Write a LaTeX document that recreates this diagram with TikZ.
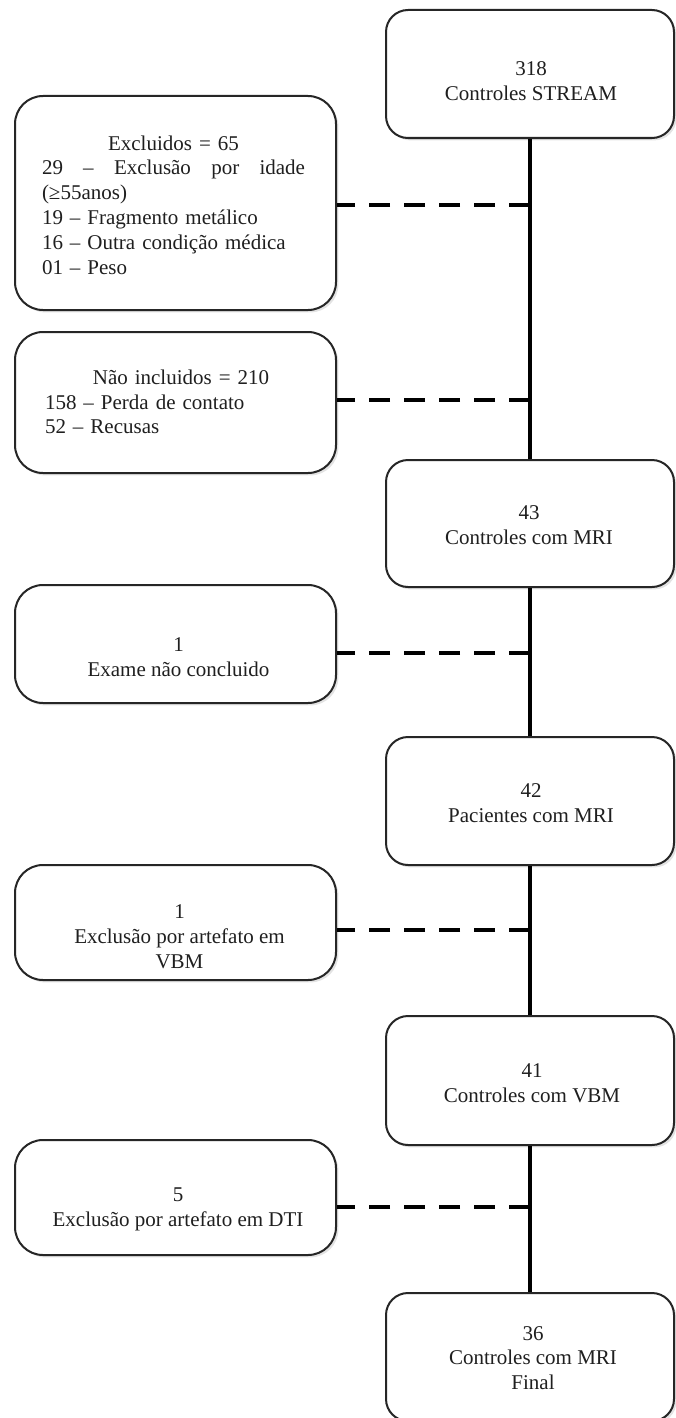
\documentclass[tikz,border=0pt]{standalone}
\usepackage{fontspec}
\setmainfont{Liberation Serif}
\usetikzlibrary{shadows}
\begin{document}
\begin{tikzpicture}[x=0.5pt,y=-0.5pt,
  boxbase/.style={draw=black!85, line width=1pt, fill=white, inner sep=0pt,
    drop shadow={opacity=0.22, shadow xshift=1.2pt, shadow yshift=-1.2pt}},
  rbox/.style={boxbase, rounded corners=11pt, minimum width=144pt},
  lbox/.style={boxbase, rounded corners=14pt, minimum width=160.5pt},
  txt/.style={font=\fontsize{10.5pt}{12.4pt}\selectfont, text=black!88, inner sep=0pt, align=center},
  vline/.style={line width=2pt, black},
  dline/.style={line width=2pt, black, dash pattern=on 10.5pt off 7pt}]
\useasboundingbox (0,0) rectangle (675,1418);
% right column boxes
\node[rbox, minimum height=64pt]   (b1) at (530,74) {};
\node[rbox, minimum height=63.5pt] (b2) at (530,523.5) {};
\node[rbox, minimum height=64pt]   (b3) at (530,801) {};
\node[rbox, minimum height=64.5pt] (b4) at (530,1080.5) {};
\node[rbox, minimum height=64pt]   (b5) at (530,1357) {};
% left column boxes
\node[lbox, minimum height=107pt]  (l1) at (175.5,203) {};
\node[lbox, minimum height=70.5pt] (l2) at (175.5,402.5) {};
\node[lbox, minimum height=59pt]   (l3) at (175.5,644) {};
\node[lbox, minimum height=57.5pt] (l4) at (175.5,922.5) {};
\node[lbox, minimum height=57.5pt] (l5) at (175.5,1197.5) {};
% texts right
\node[txt] (t1) at (531,81.5) {318\\Controles STREAM};
\node[txt] (t2) at (529,525) {43\\Controles com MRI};
\node[txt] (t3) at (531,803) {42\\Pacientes com MRI};
\node[txt] (t4) at (532,1083) {41\\Controles com VBM};
\node[txt] (t5) at (533,1358) {36\\Controles com MRI\\Final};
% texts left
\node[txt, text width=131.5pt, align=left] (e1) at (173.5,205)
  {\hfill Excluidos = 65\hfill\null\\
   29 \hfill – \hfill Exclusão \hfill por \hfill idade\\
   (≥55anos)\\
   19 – Fragmento metálico\\
   16 – Outra condição médica\\
   01 – Peso};
\node[txt, text width=136pt, align=left] (e2) at (181,402)
  {\hfill Não incluidos = 210\hfill\null\\
   158 – Perda de contato\\
   52 – Recusas};
\node[txt] (e3) at (178.5,657) {1\\Exame não concluido};
\node[txt] (e4) at (179.5,937) {1\\Exclusão por artefato em\\VBM};
\node[txt] (e5) at (178,1209) {5\\Exclusão por artefato em DTI};
% vertical connectors
\draw[vline] (b1.south) -- (b2.north);
\draw[vline] (b2.south) -- (b3.north);
\draw[vline] (b3.south) -- (b4.north);
\draw[vline] (b4.south) -- (b5.north);
% dashed connectors (drawn from the trunk towards the side box)
\path ([yshift=-1pt]l1.east) coordinate (d1);
\path ([yshift=1.25pt]l2.east) coordinate (d2);
\path ([yshift=-4.5pt]l3.east) coordinate (d3);
\path ([yshift=-3.75pt]l4.east) coordinate (d4);
\path ([yshift=-4.75pt]l5.east) coordinate (d5);
\draw[dline] (d1 -| b1.south) -- (d1);
\draw[dline] (d2 -| b1.south) -- (d2);
\draw[dline] (d3 -| b2.south) -- (d3);
\draw[dline] (d4 -| b3.south) -- (d4);
\draw[dline] (d5 -| b4.south) -- (d5);
\end{tikzpicture}
\end{document}
